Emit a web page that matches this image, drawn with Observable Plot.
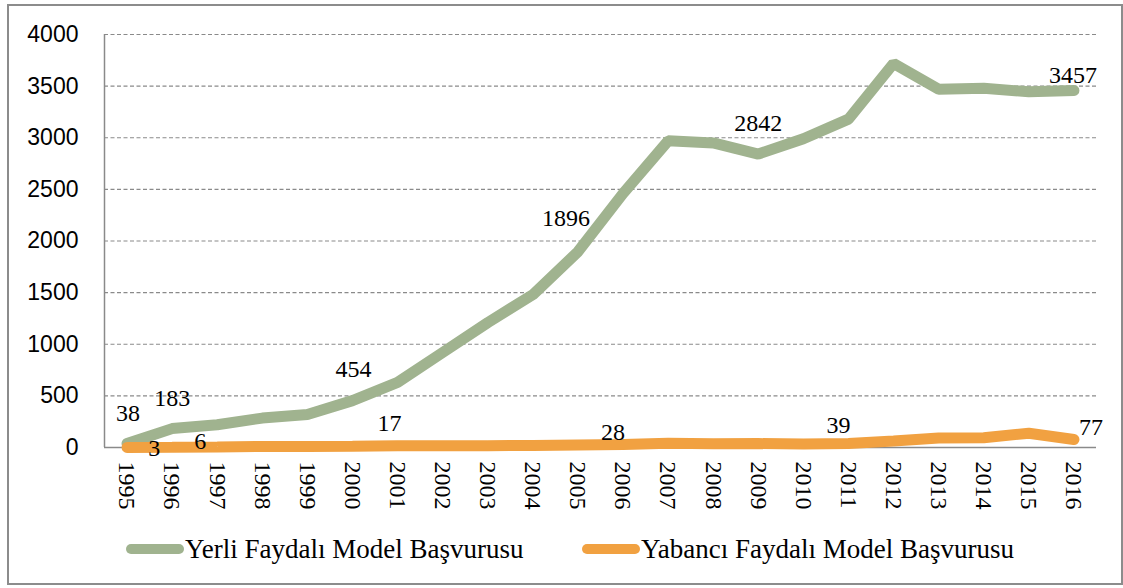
<!DOCTYPE html>
<html>
<head>
<meta charset="utf-8">
<script src="https://cdn.jsdelivr.net/npm/d3@7"></script>
<script src="https://cdn.jsdelivr.net/npm/@observablehq/plot@0.6"></script>
<style>
  html, body { margin: 0; padding: 0; background: #fff; }
  #wrap { position: relative; width: 1123px; height: 588px; overflow: hidden; }
  #border { position: absolute; left: 7px; top: 4px; width: 1116px; height: 581px; border: 2px solid #8c8c8c; box-sizing: border-box; }
  #chart { position: absolute; left: 0; top: 0; }
  .leg { position: absolute; top: 533px; height: 32px; display: flex; align-items: center; }
  .sw { width: 58px; height: 10px; border-radius: 5px; flex: none; }
  .lt { font-family: "Liberation Serif", "Times New Roman", serif; font-size: 27px; color: #000; white-space: nowrap; margin-left: 1px; }
</style>
</head>
<body>
<div id="wrap">
  <div id="border"></div>
  <div id="chart"></div>
  <div class="leg" style="left:126px"><div class="sw" style="background:#a0b38f"></div><div class="lt">Yerli Faydalı Model Başvurusu</div></div>
  <div class="leg" style="left:582px"><div class="sw" style="background:#f1a141"></div><div class="lt">Yabancı Faydalı Model Başvurusu</div></div>
</div>
<script>
const years = [1995,1996,1997,1998,1999,2000,2001,2002,2003,2004,2005,2006,2007,2008,2009,2010,2011,2012,2013,2014,2015,2016];
const yerli = [38,183,220,285,320,454,630,920,1210,1480,1896,2460,2970,2950,2842,2990,3180,3720,3470,3480,3445,3457];
const yabanci = [1,3,6,10,9,12,17,16,18,20,24,28,42,36,38,33,39,62,92,94,138,77];
const yTicks = [0,500,1000,1500,2000,2500,3000,3500,4000];
const yerliLabelYears = [1995,1996,2000,2005,2009,2016];
const yabanciLabelYears = [1996,1997,2001,2006,2011,2016];

const GREEN = "#a0b38f", ORANGE = "#f1a141";
const yerliData = years.map((y,i) => ({year: y, value: yerli[i]}));
const yabanciData = years.map((y,i) => ({year: y, value: yabanci[i]}));

// label offsets (pixels) relative to the point
const yerliOff = [[1,-30],[0,-30],[1,-31],[-12,-33],[0,-31],[-1,-15]];
const yabanciOff = [[-18,1],[-17,-6],[-8,-22],[-10,-12],[-10,-18],[17,-12]];

const serif = "Liberation Serif, Times New Roman, serif";
const labelMarks = [];
yerliLabelYears.forEach((yr, k) => {
  labelMarks.push(Plot.text(yerliData.filter(d => d.year === yr), {
    x: "year", y: "value", text: d => String(d.value),
    dx: yerliOff[k][0], dy: yerliOff[k][1], fontSize: 24, fontFamily: serif, fill: "#000"
  }));
});
yabanciLabelYears.forEach((yr, k) => {
  labelMarks.push(Plot.text(yabanciData.filter(d => d.year === yr), {
    x: "year", y: "value", text: d => String(d.value),
    dx: yabanciOff[k][0], dy: yabanciOff[k][1], fontSize: 24, fontFamily: serif, fill: "#000"
  }));
});

const plot = Plot.plot({
  width: 1123,
  height: 530,
  marginLeft: 104,
  marginRight: 27,
  marginTop: 34,
  marginBottom: 83,
  style: { background: "transparent", color: "#000" },
  x: { type: "linear", domain: [1994.5, 2016.5] },
  y: { domain: [0, 4000] },
  marks: [
    Plot.ruleY(yTicks.filter(t => t > 0), { stroke: "#8a8a8a", strokeWidth: 1.2, strokeDasharray: "4,2.5" }),
    Plot.ruleY([0], { stroke: "#8a8a8a", strokeWidth: 1.5 }),
    Plot.ruleX([1994.5], { stroke: "#8a8a8a", strokeWidth: 1.5 }),
    Plot.axisY({ ticks: yTicks, tickSize: 0, tickPadding: 26, fontSize: 23, fontFamily: "Liberation Sans, Arial, sans-serif", label: null, tickFormat: d => String(d) }),
    Plot.axisX({ ticks: years, tickSize: 0, tickPadding: 14, tickRotate: 90, fontSize: 24, fontFamily: serif, label: null, tickFormat: d => String(d) }),
    Plot.line(yerliData, { x: "year", y: "value", stroke: GREEN, strokeWidth: 11, strokeLinecap: "round", strokeLinejoin: "miter" }),
    Plot.line(yabanciData, { x: "year", y: "value", stroke: ORANGE, strokeWidth: 11, strokeLinecap: "round", strokeLinejoin: "miter" }),
    ...labelMarks
  ]
});
document.getElementById("chart").appendChild(plot);
</script>
</body>
</html>
